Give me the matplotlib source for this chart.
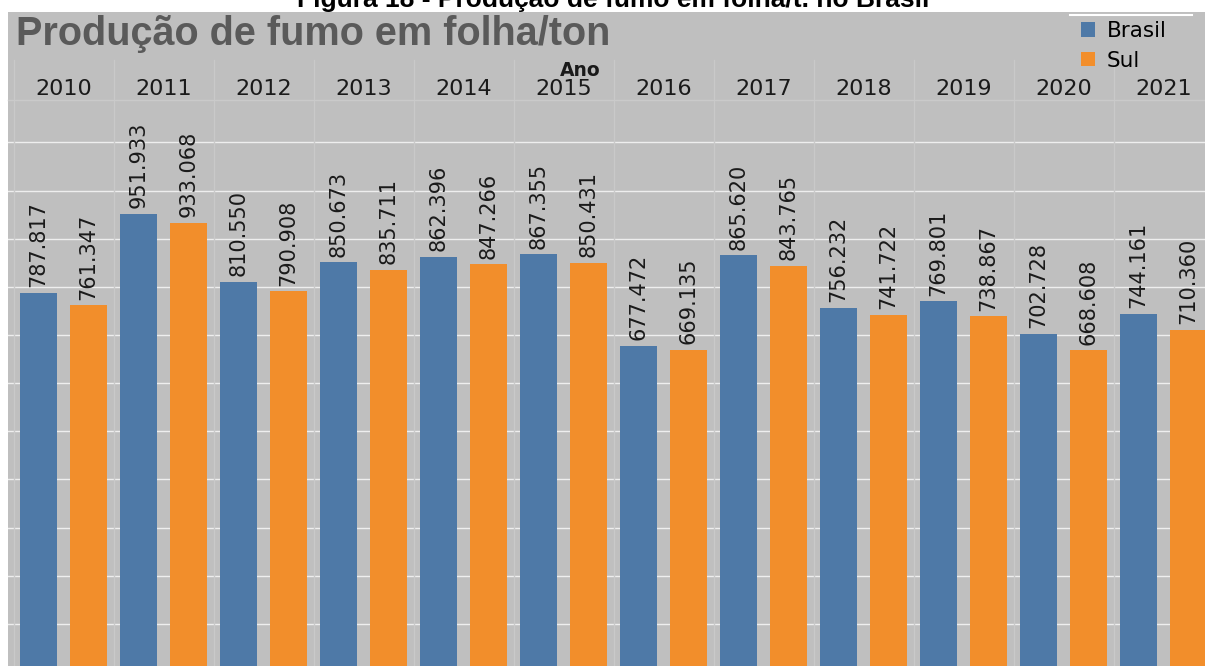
import numpy as np
import matplotlib
matplotlib.use('Agg')
import matplotlib.pyplot as plt
from matplotlib.patches import Rectangle
from matplotlib.lines import Line2D

# Produção de fumo em folha (toneladas)
years = ['2010', '2011', '2012', '2013', '2014', '2015',
         '2016', '2017', '2018', '2019', '2020', '2021']
brasil = [787817, 951933, 810550, 850673, 862396, 867355,
          677472, 865620, 756232, 769801, 702728, 744161]
sul = [761347, 933068, 790908, 835711, 847266, 850431,
       669135, 843765, 741722, 738867, 668608, 710360]

W, H = 1205, 666
BLUE = '#4e79a7'
ORANGE = '#f28e2b'
BG = '#bfbfbf'


def fmt(v):
    return f"{v:,}".replace(',', '.')


fig = plt.figure(figsize=(W / 100, H / 100), dpi=100)

# caption of the figure, partly cut off at the top
fig.text(613 / W, 1 - 7.5 / H, 'Figura 18 - Produção de fumo em folha/t. no Brasil',
         ha='center', va='baseline', fontsize=19, fontweight='bold',
         family='Liberation Sans', color='black', zorder=-2)

# grey dashboard background
fig.patches.append(Rectangle((8 / W, 0), 1, 1 - 12 / H, transform=fig.transFigure,
                             facecolor=BG, edgecolor='none', zorder=-1))
fig.add_artist(Line2D([1070 / W, 1192 / W], [1 - 15 / H] * 2,
                      color='white', lw=1.5, zorder=-0.5))

ax = fig.add_axes([8 / W, 0, (W - 8) / W, 566 / H])
ax.set_facecolor('none')

x = np.arange(len(years))
b1 = ax.bar(x - 0.25, brasil, 0.37, color=BLUE, label='Brasil', zorder=2)
b2 = ax.bar(x + 0.25, sul, 0.37, color=ORANGE, label='Sul', zorder=2)
ax.bar_label(b1, labels=[fmt(v) for v in brasil], rotation=90, padding=4,
             fontsize=15, color='#1a1a1a')
ax.bar_label(b2, labels=[fmt(v) for v in sul], rotation=90, padding=4,
             fontsize=15, color='#1a1a1a')

ax.set_xlim(-0.555, 11.415)
ax.set_ylim(12500, 1188000)
ax.set_yticks(np.arange(100000, 1200000, 100000))
ax.tick_params(axis='y', length=0, labelleft=False)
ax.grid(axis='y', color='#eeeeee', lw=1)
ax.set_axisbelow(True)

# year headers on top
ax.xaxis.tick_top()
ax.set_xticks(x, years)
ax.tick_params(axis='x', length=0, pad=1, labelsize=16, labelcolor='#1a1a1a')
ax.set_xlabel('Ano', fontsize=13.5, fontweight='bold', color='#1a1a1a')
ax.xaxis.set_label_position('top')
ax.xaxis.set_label_coords((580 - 8) / (W - 8), (H - 71) / 566)
ax.xaxis.label.set_va('center')

for s in ['left', 'right', 'bottom']:
    ax.spines[s].set_visible(False)
ax.spines['top'].set_color('#cacaca')
ax.spines['top'].set_linewidth(1)

# column separators, running up into the header
for i in range(len(years) + 1):
    ax.axvline(i - 0.5, ymin=0, ymax=1 + 40 / 566, color='#c9c9c9', lw=1,
               clip_on=False, zorder=1)

# title
fig.text(16 / W, 1 - 45 / H, 'Produção de fumo em folha/ton', ha='left', va='baseline',
         fontsize=28.5, fontweight='bold', family='Liberation Sans', color='#5a5a5a')

ax.legend(loc='upper left', bbox_to_anchor=(1081 / W, 1 - 21 / H),
          bbox_transform=fig.transFigure, frameon=False, fontsize=15.5,
          handlelength=0.65, handleheight=0.65, handletextpad=0.55,
          labelspacing=0.45, borderpad=0, borderaxespad=0)

plt.savefig('out.png', dpi=100)
